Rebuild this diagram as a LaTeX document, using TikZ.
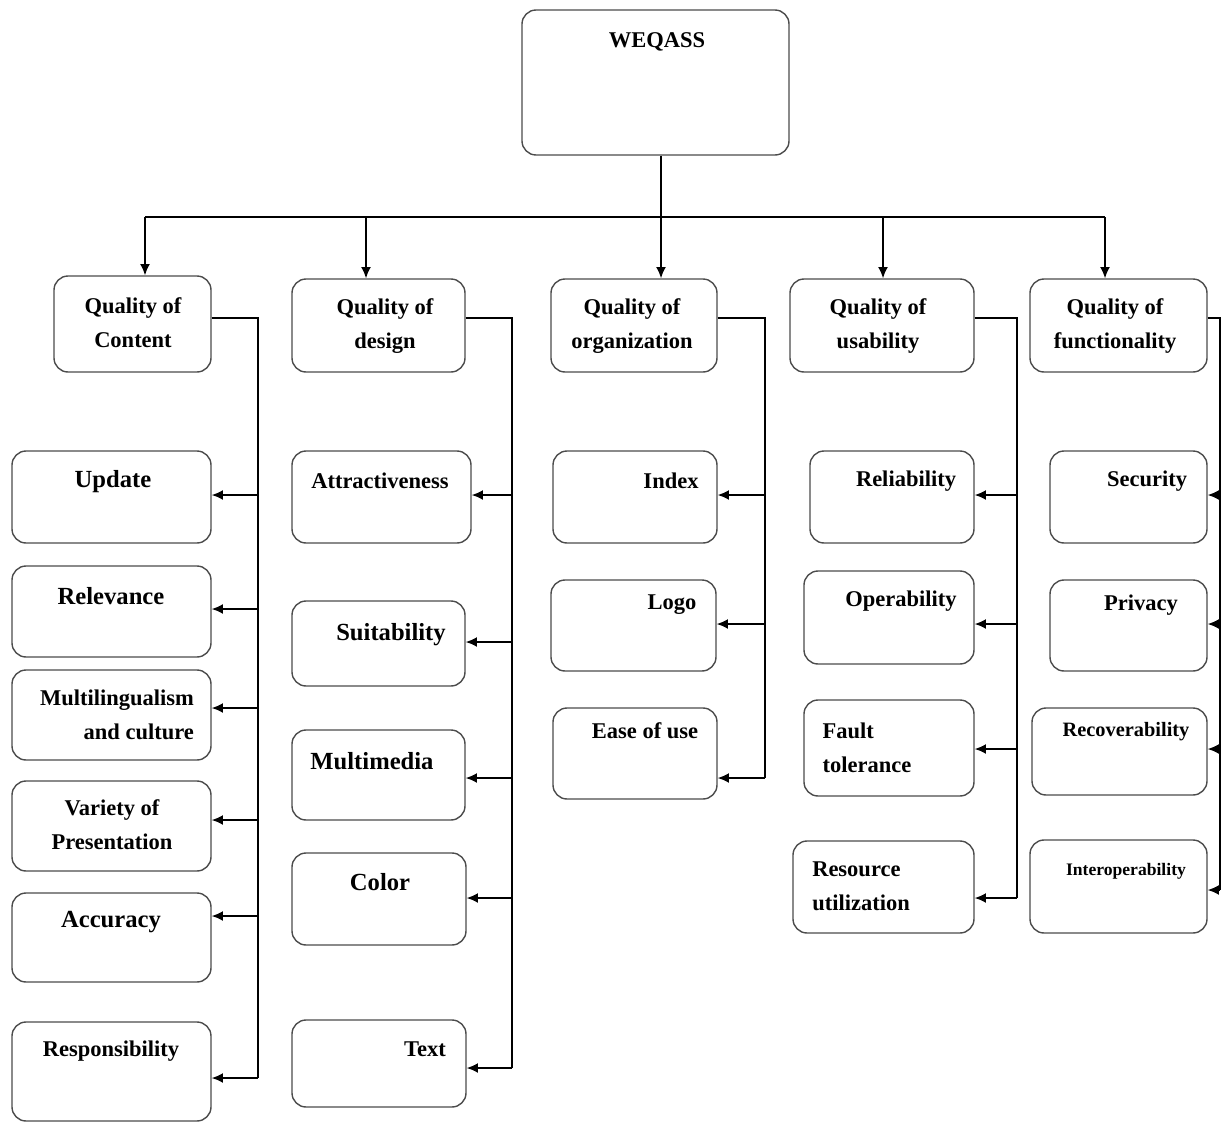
\documentclass[tikz,border=0pt]{standalone}
\usepackage{fontspec}
\setmainfont{Liberation Serif}
\usetikzlibrary{fit}
\usetikzlibrary{arrows.meta}

\tikzset{
  box/.style={draw=black!70, line width=1pt, rounded corners=10pt, inner sep=0pt},
  lbl/.style={font=\bfseries\fontsize{16}{24}\selectfont, align=center, inner sep=0pt},
  big/.style={font=\bfseries\fontsize{17.5}{24}\selectfont},
  link/.style={line width=1pt},
  arr/.style={link, -{Latex[length=8pt,width=7pt]}}
}

\begin{document}
\begin{tikzpicture}[x=0.025cm,y=-0.025cm]
\useasboundingbox (0,0) rectangle (1224,1124);

% root
\node[box, fit={(522,10)(789,155)}] (root) {};
\node[lbl] (root-t) at (657,42) {WEQASS};

% first level
\node[box, fit={(54,276)(211,372)}] (qc) {};
\node[lbl] (qc-t) at (133,323) {Quality of\\Content};
\node[box, fit={(292,279)(465,372)}] (qd) {};
\node[lbl] (qd-t) at (385,326) {Quality of\\design};
\node[box, fit={(551,279)(717,372)}] (qo) {};
\node[lbl] (qo-t) at (632,326) {Quality of\\organization};
\node[box, fit={(790,279)(974,372)}] (qu) {};
\node[lbl] (qu-t) at (878,326) {Quality of\\usability};
\node[box, fit={(1030,279)(1207,372)}] (qf) {};
\node[lbl] (qf-t) at (1115,326) {Quality of\\functionality};

% content
\node[box, fit={(12,451)(211,543)}] (upd) {};
\node[lbl,big] (upd-t) at (113,482) {Update};
\node[box, fit={(12,566)(211,657)}] (rel) {};
\node[lbl,big] (rel-t) at (111,596) {Relevance};
\node[box, fit={(12,670)(211,760)}] (mul) {};
\node[lbl,align=right] (mul-t) at (117,715) {Multilingualism\\and culture};
\node[box, fit={(12,781)(211,871)}] (var) {};
\node[lbl] (var-t) at (112,825) {Variety of\\Presentation};
\node[box, fit={(12,893)(211,982)}] (acc) {};
\node[lbl,big] (acc-t) at (111,922) {Accuracy};
\node[box, fit={(12,1022)(211,1121)}] (resp) {};
\node[lbl] (resp-t) at (111,1051) {Responsibility};

% design
\node[box, fit={(292,451)(471,543)}] (att) {};
\node[lbl] (att-t) at (380,481) {Attractiveness};
\node[box, fit={(292,601)(465,686)}] (sui) {};
\node[lbl,big] (sui-t) at (391,635) {Suitability};
\node[box, fit={(292,730)(465,820)}] (mm) {};
\node[lbl,big] (mm-t) at (372,761) {Multimedia};
\node[box, fit={(292,853)(466,945)}] (col) {};
\node[lbl,big] (col-t) at (380,882) {Color};
\node[box, fit={(292,1020)(466,1107)}] (txt) {};
\node[lbl] (txt-t) at (425,1049) {Text};

% organization
\node[box, fit={(553,451)(717,543)}] (idx) {};
\node[lbl] (idx-t) at (671,481) {Index};
\node[box, fit={(551,580)(716,671)}] (logo) {};
\node[lbl] (logo-t) at (672,605) {Logo};
\node[box, fit={(553,708)(717,799)}] (ease) {};
\node[lbl] (ease-t) at (645,731) {Ease of use};

% usability
\node[box, fit={(810,451)(974,543)}] (reli) {};
\node[lbl] (reli-t) at (906,481) {Reliability};
\node[box, fit={(804,571)(974,664)}] (oper) {};
\node[lbl] (oper-t) at (901,601) {Operability};
\node[box, fit={(804,700)(974,796)}] (fault) {};
\node[lbl,align=left] (fault-t) at (867,748) {Fault\\tolerance};
\node[box, fit={(793,841)(974,933)}] (res) {};
\node[lbl,align=left] (res-t) at (861,886) {Resource\\utilization};

% functionality
\node[box, fit={(1050,451)(1207,543)}] (sec) {};
\node[lbl] (sec-t) at (1147,481) {Security};
\node[box, fit={(1050,580)(1207,671)}] (priv) {};
\node[lbl] (priv-t) at (1141,605) {Privacy};
\node[box, fit={(1032,708)(1207,795)}] (rec) {};
\node[lbl,font=\bfseries\fontsize{14.5}{20}\selectfont] (rec-t) at (1126,732) {Recoverability};
\node[box, fit={(1030,840)(1207,933)}] (inter) {};
\node[lbl,font=\bfseries\fontsize{12.5}{18}\selectfont] (inter-t) at (1126,871) {Interoperability};

% top bus
\coordinate (bus) at (661,217);
\coordinate (b1) at (145,217);
\coordinate (b2) at (366,217);
\coordinate (b4) at (883,217);
\coordinate (b5) at (1105,217);
\draw[link] (b1) -- (b5);
\draw[link] (root.south -| bus) -- (bus);
\draw[arr] (bus) -- (bus |- qo.north);
\foreach \b/\q in {b1/qc,b2/qd,b4/qu,b5/qf}
  \draw[arr] (\b) -- (\b |- \q.north);

% side buses
\coordinate (cx) at (258,318);
\coordinate (dx) at (512,318);
\coordinate (ox) at (765,318);
\coordinate (ux) at (1017,318);
\coordinate (fx) at (1220,318);
\draw[link] (qc.east |- cx) -- (cx) -- (cx |- 0,1078);
\draw[link] (qd.east |- dx) -- (dx) -- (dx |- 0,1068);
\draw[link] (qo.east |- ox) -- (ox) -- (ox |- 0,778);
\draw[link] (qu.east |- ux) -- (ux) -- (ux |- 0,898);
\draw[link] (qf.east |- fx) -- (fx) -- (fx |- 0,890);

\foreach \n/\y in {upd/495,rel/609,mul/708,var/820,acc/916,resp/1078}
  \draw[arr] (cx |- 0,\y) -- (\n.east |- 0,\y);
\foreach \n/\y in {att/495,sui/642,mm/778,col/898,txt/1068}
  \draw[arr] (dx |- 0,\y) -- (\n.east |- 0,\y);
\foreach \n/\y in {idx/495,logo/624,ease/778}
  \draw[arr] (ox |- 0,\y) -- (\n.east |- 0,\y);
\foreach \n/\y in {reli/495,oper/624,fault/749,res/898}
  \draw[arr] (ux |- 0,\y) -- (\n.east |- 0,\y);
\foreach \n/\y in {sec/495,priv/624,rec/749,inter/890}
  \draw[arr] (fx |- 0,\y) -- (\n.east |- 0,\y);
\end{tikzpicture}
\end{document}
